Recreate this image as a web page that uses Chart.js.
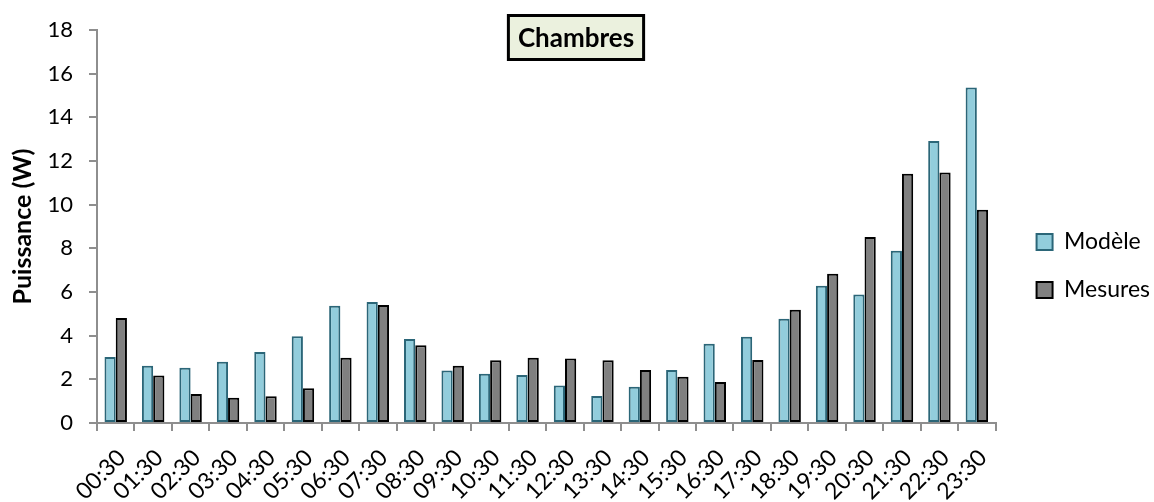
<!DOCTYPE html>
<html>
<head>
<meta charset="utf-8">
<script src="https://cdn.jsdelivr.net/npm/chart.js@4/dist/chart.umd.min.js"></script>
<style>
html,body{margin:0;padding:0;background:#fff;}
#wrap{width:1154px;height:502px;position:relative;}
</style>
</head>
<body>
<div id="wrap"><canvas id="c" width="1154" height="502"></canvas></div>
<script>
const categories = ['00:30','01:30','02:30','03:30','04:30','05:30','06:30','07:30','08:30','09:30','10:30','11:30','12:30','13:30','14:30','15:30','16:30','17:30','18:30','19:30','20:30','21:30','22:30','23:30'];
const modele = [3.02, 2.62, 2.53, 2.81, 3.25, 3.97, 5.37, 5.54, 3.85, 2.41, 2.26, 2.20, 1.72, 1.24, 1.66, 2.43, 3.63, 3.95, 4.78, 6.29, 5.88, 7.89, 12.92, 15.37];
const mesures = [4.81, 2.17, 1.33, 1.16, 1.22, 1.59, 2.99, 5.40, 3.56, 2.62, 2.87, 2.99, 2.95, 2.87, 2.43, 2.12, 1.88, 2.89, 5.19, 6.84, 8.52, 11.42, 11.47, 9.77];
const seriesNames = ['Modèle', 'Mesures'];
const chartTitle = 'Chambres';
const yAxisTitle = 'Puissance (W)';
const yMin = 0, yMax = 18, yStep = 2;

const FONT = 'Lato, Carlito, "Open Sans", sans-serif';
const AXIS = '#8e8e8e';

const titleBoxPlugin = {
  id: 'titleBox',
  afterDraw(chart) {
    const ctx = chart.ctx;
    ctx.save();
    ctx.font = 'bold 26px ' + FONT;
    const w = ctx.measureText(chartTitle).width;
    const cx = 576;
    const cy = 37.5;
    const bw = w + 19, bh = 44;
    ctx.fillStyle = '#EBF1DE';
    ctx.strokeStyle = '#000';
    ctx.lineWidth = 3;
    ctx.beginPath();
    ctx.rect(cx - bw / 2, cy - bh / 2, bw, bh);
    ctx.fill();
    ctx.stroke();
    ctx.fillStyle = '#000';
    ctx.textAlign = 'center';
    ctx.textBaseline = 'middle';
    ctx.fillText(chartTitle, cx, cy + 1);
    ctx.restore();
  }
};

const legendShift = {
  id: 'legendShift',
  afterLayout(chart) {
    const lg = chart.legend;
    if (!lg) return;
    const dx = 16, dy = 0;
    lg.left += dx; lg.right += dx; lg.top += dy; lg.bottom += dy;
  }
};

new Chart(document.getElementById('c'), {
  type: 'bar',
  data: {
    labels: categories,
    datasets: [
      { label: seriesNames[0], data: modele, backgroundColor: '#92CDDC', borderColor: '#2B6678', borderWidth: 2, borderSkipped: false },
      { label: seriesNames[1], data: mesures, backgroundColor: '#808080', borderColor: '#000000', borderWidth: 2, borderSkipped: false }
    ]
  },
  options: {
    responsive: false,
    animation: false,
    devicePixelRatio: 1,
    datasets: { bar: { categoryPercentage: 0.6, barPercentage: 1.0 } },
    layout: { padding: { top: 30, left: 0, right: 10, bottom: 0 } },
    plugins: {
      title: { display: false },
      tooltip: { enabled: false },
      legend: {
        display: true,
        position: 'right',
        labels: {
          font: { family: FONT, size: 23 },
          color: '#000',
          boxWidth: 16,
          boxHeight: 16,
          padding: 25
        }
      }
    },
    scales: {
      x: {
        grid: { display: true, drawOnChartArea: false, drawTicks: true, tickLength: 8, color: AXIS, lineWidth: 2, offset: true },
        border: { display: true, color: AXIS, width: 2 },
        ticks: { maxRotation: 45, minRotation: 45, autoSkip: false, padding: 13, labelOffset: 6, color: '#000', font: { family: FONT, size: 23 } },
        afterFit(scale) { scale.height = 79; }
      },
      y: {
        min: yMin, max: yMax,
        grid: { display: true, drawOnChartArea: false, drawTicks: true, tickLength: 8, color: AXIS, lineWidth: 2 },
        border: { display: true, color: AXIS, width: 2 },
        ticks: { stepSize: yStep, padding: 16, color: '#000', font: { family: FONT, size: 22 } },
        title: { display: true, text: yAxisTitle, color: '#000', font: { family: FONT, size: 25, weight: 'bold' }, padding: { top: 8, bottom: 0 } },
        afterFit(scale) { scale.width = 97; }
      }
    }
  },
  plugins: [titleBoxPlugin, legendShift]
});
</script>
</body>
</html>
